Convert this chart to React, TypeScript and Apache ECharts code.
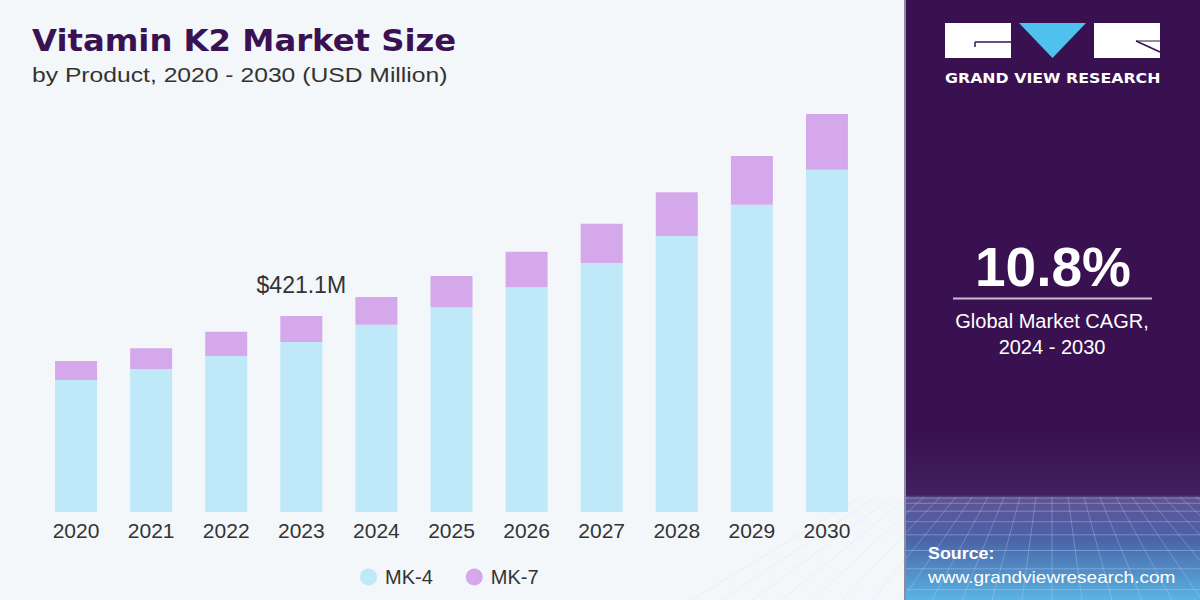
import React, { useEffect, useRef } from "react";
import * as echarts from "echarts";

const years = ["2020", "2021", "2022", "2023", "2024", "2025", "2026", "2027", "2028", "2029", "2030"];
const mk4 = [283.6, 307, 335, 365.1, 402, 440, 483, 535, 593, 660, 735];
const mk7 = [40.9, 45, 52, 56, 60, 67, 76, 84, 94, 105, 120];
const seriesNames = ["MK-4", "MK-7"];
const annotationIndex = 3;
const annotationText = "$421.1M";
const titleText = "Vitamin K2 Market Size";
const subtitleText = "by Product, 2020 - 2030 (USD Million)";
const cagrText = "10.8%";
const cagrLabel1 = "Global Market CAGR,";
const cagrLabel2 = "2024 - 2030";
const brandText = "GRAND VIEW RESEARCH";
const sourceLabel = "Source:";
const sourceUrl = "www.grandviewresearch.com";

function txt(text: string, x: number, y: number, font: string, fill: string, align: string, sx = 1) {
  return {
    type: "text",
    x,
    y,
    scaleX: sx,
    silent: true,
    style: { text, x: 0, y: 0, align, verticalAlign: "middle", fill, font },
  };
}

export default function App() {
  const ref = useRef<HTMLDivElement>(null);
  useEffect(() => {
    if (!ref.current) return;
    const chart = echarts.init(ref.current, null, { renderer: "svg", width: 1200, height: 600 });

    const gridLines: any[] = [];
    for (let i = 0; i < 9; i++) {
      const y = 498 + i * i * 1.3 + i * 4;
      if (y > 600) break;
      gridLines.push({
        type: "line",
        shape: { x1: 905, y1: y, x2: 1200, y2: y },
        style: { stroke: "rgba(200,220,255,0.35)", lineWidth: 1 },
        silent: true,
      });
    }
    for (let i = -12; i <= 12; i++) {
      const xTop = 1052 + i * 16;
      const xBot = 1052 + i * 30;
      gridLines.push({
        type: "line",
        shape: { x1: xTop, y1: 497, x2: xBot, y2: 600 },
        style: { stroke: "rgba(200,220,255,0.3)", lineWidth: 1 },
        silent: true,
      });
    }

    const option: any = {
      animation: false,
      backgroundColor: "#f3f7fa",
      grid: { left: 38.5, right: 335.5, top: 46.5, bottom: 88, containLabel: false },
      xAxis: {
        type: "category",
        data: years,
        axisLine: { show: false },
        axisTick: { show: false },
        axisLabel: { color: "#333", fontSize: 21, fontFamily: "Liberation Sans, Arial, sans-serif", margin: 8 },
      },
      yAxis: {
        type: "value",
        min: 0,
        max: 1000,
        show: false,
        splitLine: { show: false },
      },
      legend: {
        data: seriesNames,
        left: 355,
        top: 562,
        icon: "circle",
        itemWidth: 17,
        itemHeight: 17,
        itemGap: 33,
        textStyle: { color: "#333", fontSize: 20, fontFamily: "Liberation Sans, Arial, sans-serif", padding: [0, 0, 0, 3] },
      },
      series: [
        {
          name: seriesNames[0],
          type: "bar",
          stack: "total",
          barWidth: 42,
          itemStyle: { color: "#bfe8f8" },
          data: mk4,
        },
        {
          name: seriesNames[1],
          type: "bar",
          stack: "total",
          barWidth: 42,
          itemStyle: { color: "#d4a8eb" },
          data: mk7.map((v, i) =>
            i === annotationIndex
              ? {
                  value: v,
                  label: {
                    show: true,
                    position: "top",
                    distance: 19,
                    formatter: annotationText,
                    color: "#333",
                    fontSize: 23,
                    fontFamily: "Liberation Sans, Arial, sans-serif",
                  },
                }
              : v
          ),
        },
      ],
      graphic: [
        {
          type: "rect",
          shape: { x: 905, y: 0, width: 295, height: 600 },
          style: {
            fill: new echarts.graphic.LinearGradient(0, 0, 0, 1, [
              { offset: 0, color: "#3a1150" },
              { offset: 0.72, color: "#3a1150" },
              { offset: 0.825, color: "#42205f" },
              { offset: 0.83, color: "#5f5393" },
              { offset: 0.9, color: "#4a64a8" },
              { offset: 1, color: "#5ab4e2" },
            ]),
          },
          silent: true,
        },
        ...gridLines,
        { type: "rect", shape: { x: 904, y: 0, width: 2, height: 600 }, style: { fill: "#8f8aa0" }, silent: true },
        { type: "rect", shape: { x: 945, y: 23, width: 66, height: 35 }, style: { fill: "#ffffff" } },
        { type: "line", shape: { x1: 975, y1: 42, x2: 1011, y2: 42 }, style: { stroke: "#3a1150", lineWidth: 1.5 } },
        { type: "line", shape: { x1: 975, y1: 42, x2: 975, y2: 47 }, style: { stroke: "#3a1150", lineWidth: 1.5 } },
        {
          type: "polygon",
          shape: { points: [[1019, 23], [1086, 23], [1052.5, 58]] },
          style: { fill: "#4fc1ee" },
        },
        { type: "rect", shape: { x: 1094, y: 23, width: 66, height: 35 }, style: { fill: "#ffffff" } },
        { type: "line", shape: { x1: 1136, y1: 41, x2: 1160, y2: 52 }, style: { stroke: "#3a1150", lineWidth: 1.5 } },
        { type: "line", shape: { x1: 1136, y1: 41, x2: 1160, y2: 41 }, style: { stroke: "#3a1150", lineWidth: 1 } },
        txt(brandText, 945, 78, "bold 14px 'DejaVu Sans', sans-serif", "#ffffff", "left", 1.13),
        txt(cagrText, 1053, 267, "bold 55px 'Liberation Sans', Arial, sans-serif", "#ffffff", "center"),
        { type: "line", shape: { x1: 953, y1: 298.5, x2: 1152, y2: 298.5 }, style: { stroke: "#c8bcd6", lineWidth: 2 } },
        txt(cagrLabel1, 1052, 321, "20px 'Liberation Sans', Arial, sans-serif", "#ffffff", "center"),
        txt(cagrLabel2, 1052, 347, "20px 'Liberation Sans', Arial, sans-serif", "#ffffff", "center"),
        txt(sourceLabel, 928, 553, "bold 17px 'Liberation Sans', Arial, sans-serif", "#ffffff", "left", 1.05),
        txt(sourceUrl, 928, 577, "17px 'Liberation Sans', Arial, sans-serif", "#ffffff", "left", 1.12),
        txt(titleText, 32, 40, "bold 30px 'DejaVu Sans', sans-serif", "#3a1152", "left", 1.076),
        txt(subtitleText, 32, 75, "21px 'Liberation Sans', Arial, sans-serif", "#333333", "left", 1.175),
      ],
    };
    chart.setOption(option);
    return () => chart.dispose();
  }, []);
  return <div ref={ref} style={{ position: "absolute", left: 0, top: 0, width: 1200, height: 600 }} />;
}
